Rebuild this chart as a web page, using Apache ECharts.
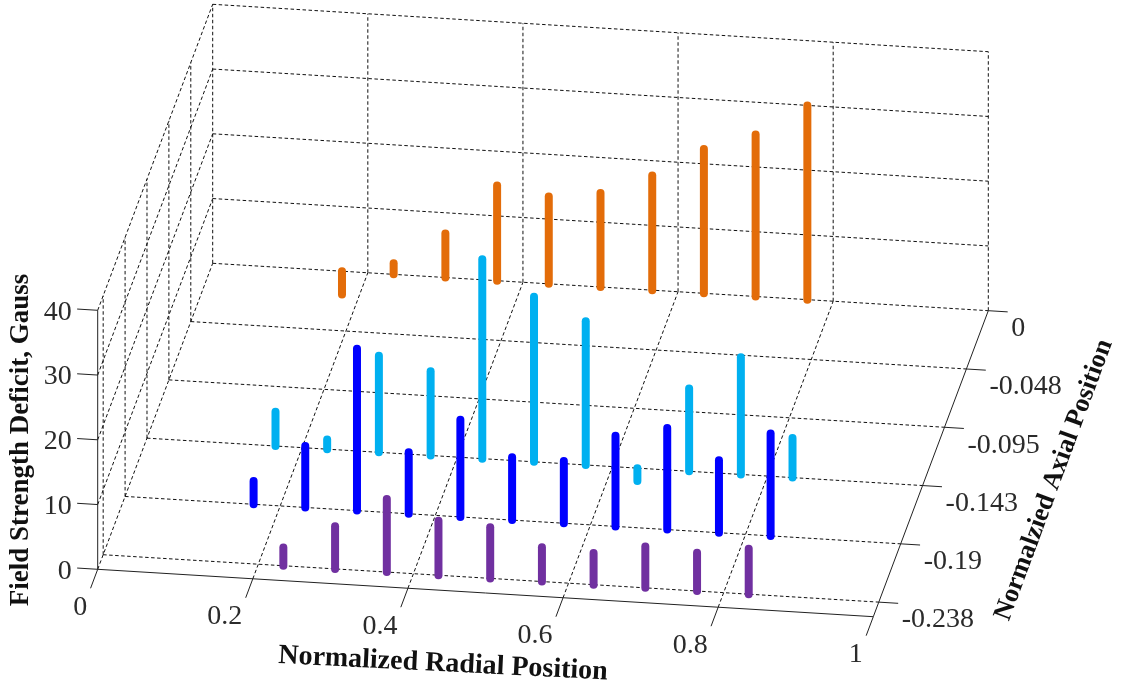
<!DOCTYPE html>
<html>
<head>
<meta charset="utf-8">
<style>html,body{margin:0;padding:0;background:#fff}#c{width:1122px;height:689px}</style>
<script src="https://cdn.jsdelivr.net/npm/echarts@6/dist/echarts.min.js"></script>
</head>
<body>
<div id="c"></div>
<script>
// ---- data ----
const radialTicks = [0, 0.2, 0.4, 0.6, 0.8, 1];
const radialTickLabels = ['0', '0.2', '0.4', '0.6', '0.8', '1'];
const axialTicks = [0, -1/21, -2/21, -3/21, -4/21, -5/21];
const axialTickLabels = ['0', '-0.048', '-0.095', '-0.143', '-0.19', '-0.238'];
const deficitTicks = [0, 10, 20, 30, 40];
const deficitTickLabels = ['0', '10', '20', '30', '40'];

const axialOrange = 0;
const radialOrange = [0.1667, 0.2333, 0.3, 0.3667, 0.4333, 0.5, 0.5667, 0.6333, 0.7, 0.7667];
const deficitOrange = [-3.6, 1.7, 6.8, 14.7, 13.5, 14.5, 17.7, 22.3, 25, 30];

const axialCyan = -3/21;
const radialCyan = [0.1657, 0.2323, 0.299, 0.3657, 0.4323, 0.499, 0.5657, 0.6323, 0.699, 0.7657, 0.8323];
const deficitCyan = [5.3, 1.5, 14.9, 13, 30.8, 25.5, 22.2, -2, 12.8, 18.1, 6.1];

const axialBlue = -4/21;
const radialBlue = [0.1657, 0.2323, 0.299, 0.3657, 0.4323, 0.499, 0.5657, 0.6323, 0.699, 0.7657, 0.8323];
const deficitBlue = [3.6, 9.5, 25, 9.5, 15, 9.7, 9.6, 14, 15.7, 11.2, 15.8];

const axialPurple = -5/21;
const radialPurple = [0.2323, 0.299, 0.3657, 0.4323, 0.499, 0.5657, 0.6323, 0.699, 0.7657, 0.8323];
const deficitPurple = [2.8, 6.6, 11.3, 8.4, 7.9, 5.3, 4.9, 6.4, 5.9, 7];

// ---- oblique 3D view: the radial and deficit scales come from a hidden grid ----
const AXIAL_MIN = -0.25, AXIAL_MAX = 0;
const DEPTH_DX = 115, DEPTH_DY = -306, RADIAL_SLOPE = 47.4;
function project(api, x, z, a) {
  const p = api.coord([x, z]);
  const f = (a - AXIAL_MIN) / (AXIAL_MAX - AXIAL_MIN);
  return [p[0] + f * DEPTH_DX, p[1] + x * RADIAL_SLOPE + f * DEPTH_DY];
}

// grid lines: [x1, z1, a1, x2, z2, a2]
const dashedLines = [];
radialTicks.forEach(x => {
  if (x > 0 && x < 1) dashedLines.push([x, 0, AXIAL_MIN, x, 0, AXIAL_MAX]);
  dashedLines.push([x, 0, AXIAL_MAX, x, 40, AXIAL_MAX]);
});
axialTicks.forEach(a => {
  dashedLines.push([0, 0, a, 1, 0, a]);
  if (a !== 0) dashedLines.push([0, 0, a, 0, 40, a]);
});
deficitTicks.forEach(z => {
  if (z !== 0) dashedLines.push([0, z, AXIAL_MAX, 1, z, AXIAL_MAX]);
  dashedLines.push([0, z, AXIAL_MIN, 0, z, AXIAL_MAX]);
});

const solidLines = [
  [0, 0, AXIAL_MIN, 1, 0, AXIAL_MIN],
  [1, 0, AXIAL_MIN, 1, 0, AXIAL_MAX],
  [0, 0, AXIAL_MIN, 0, 40, AXIAL_MIN]
];
radialTicks.forEach(x => solidLines.push([x, 0, AXIAL_MIN, x, 0, AXIAL_MIN - 0.0155]));
axialTicks.forEach(a => solidLines.push([1, 0, a, 1.025, 0, a]));
deficitTicks.forEach(z => solidLines.push([0, z, AXIAL_MIN, -0.0265, z, AXIAL_MIN]));

function lineRenderer(stroke, dash) {
  return function (params, api) {
    const s = project(api, api.value(0), api.value(1), api.value(2));
    const e = project(api, api.value(3), api.value(4), api.value(5));
    return {
      type: 'line', silent: true,
      shape: { x1: s[0], y1: s[1], x2: e[0], y2: e[1] },
      style: { stroke: stroke, lineWidth: 1, lineDash: dash, fill: null }
    };
  };
}

function barSeries(name, color, axial, radial, values) {
  return {
    type: 'custom', name: name, coordinateSystem: 'cartesian2d',
    silent: true, animation: false, z: 5,
    data: radial.map((x, i) => [x, values[i], axial]),
    renderItem: function (params, api) {
      const s = project(api, api.value(0), 0, api.value(2));
      const e = project(api, api.value(0), api.value(1), api.value(2));
      return {
        type: 'line',
        shape: { x1: s[0], y1: s[1], x2: e[0], y2: e[1] },
        style: { stroke: color, lineWidth: 8, lineCap: 'round', fill: null }
      };
    }
  };
}

function labelSeries(rows, dx, dy, align) {
  return {
    type: 'custom', coordinateSystem: 'cartesian2d', silent: true, animation: false, z: 6,
    data: rows,
    renderItem: function (params, api) {
      const p = project(api, api.value(0), api.value(1), api.value(2));
      return {
        type: 'text',
        style: {
          x: p[0] + dx, y: p[1] + dy, text: rows[params.dataIndex][3],
          align: align, verticalAlign: 'middle',
          font: '28px "Liberation Serif", serif', fill: '#2b2b2b'
        }
      };
    }
  };
}

const chart = echarts.init(document.getElementById('c'), null, { renderer: 'canvas' });
chart.setOption({
  animation: false,
  backgroundColor: '#fff',
  grid: { left: 97.7, top: 310.3, width: 775.6, height: 259, containLabel: false, show: false },
  xAxis: { type: 'value', min: 0, max: 1, show: false },
  yAxis: { type: 'value', min: 0, max: 40, show: false },
  series: [
    { type: 'custom', coordinateSystem: 'cartesian2d', silent: true, animation: false, z: 1,
      data: dashedLines, renderItem: lineRenderer('#111', [3.5, 2.5]) },
    { type: 'custom', coordinateSystem: 'cartesian2d', silent: true, animation: false, z: 2,
      data: solidLines, renderItem: lineRenderer('#222', null) },
    barSeries('Axial 0', '#E36C09', axialOrange, radialOrange, deficitOrange),
    barSeries('Axial -0.143', '#00B0F0', axialCyan, radialCyan, deficitCyan),
    barSeries('Axial -0.19', '#0000FF', axialBlue, radialBlue, deficitBlue),
    barSeries('Axial -0.238', '#7030A0', axialPurple, radialPurple, deficitPurple),
    labelSeries(deficitTicks.map((z, i) => [0, z, AXIAL_MIN, deficitTickLabels[i]]), -26, 2, 'right'),
    labelSeries(radialTicks.map((x, i) => [x, 0, AXIAL_MIN, radialTickLabels[i]]), -10.5, 38, 'right'),
    labelSeries(axialTicks.map((a, i) => [1, 0, a, axialTickLabels[i]]), 23, 18, 'left')
  ],
  graphic: [
    { type: 'text', x: 21, y: 440, rotation: Math.PI / 2, z: 10,
      style: { text: 'Field Strength Deficit, Gauss', font: 'bold 27px "Liberation Serif", serif', fill: '#111', align: 'center', verticalAlign: 'middle' } },
    { type: 'text', x: 443, y: 664, rotation: -0.05, z: 10,
      style: { text: 'Normalized Radial Position', font: 'bold 28px "Liberation Serif", serif', fill: '#111', align: 'center', verticalAlign: 'middle' } },
    { type: 'text', x: 1054, y: 480, rotation: 1.216, z: 10,
      style: { text: 'Normalzied Axial Position', font: 'bold 26.5px "Liberation Serif", serif', fill: '#111', align: 'center', verticalAlign: 'middle' } }
  ]
});
</script>
</body>
</html>
